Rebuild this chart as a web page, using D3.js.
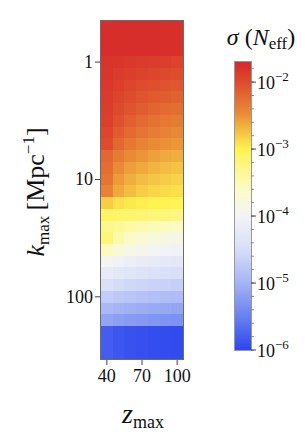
<!DOCTYPE html>
<html><head><meta charset="utf-8">
<script src="https://cdn.jsdelivr.net/npm/d3@7"></script>
<style>body{margin:0;background:#fff}svg{display:block}text{font-family:"Liberation Serif","DejaVu Serif",serif;fill:#111}</style>
</head><body>
<svg id="c" width="305" height="432"></svg>
<script>
// ---- data ----
const zValues = [40, 50, 60, 70, 80, 90, 100];
// row edges in log10(k_max), top to bottom
const kLogEdges = [-0.35, -0.05, 0.05, 0.15, 0.25, 0.35, 0.45, 0.55, 0.65, 0.75, 0.85, 0.95, 1.05, 1.15,
  1.25, 1.35, 1.45, 1.55, 1.65, 1.75, 1.85, 1.95, 2.05, 2.15, 2.25, 2.53];
// log10(sigma(N_eff)), one row per k band (top to bottom), columns = zValues
const logSigma = [
  [-1.75, -1.75, -1.75, -1.75, -1.75, -1.76, -1.76],
  [-1.80, -1.82, -1.84, -1.86, -1.88, -1.90, -1.92],
  [-1.82, -1.86, -1.90, -1.93, -1.96, -1.98, -2.00],
  [-1.84, -1.90, -1.95, -2.00, -2.03, -2.06, -2.08],
  [-1.86, -1.94, -2.00, -2.06, -2.10, -2.13, -2.16],
  [-1.88, -1.98, -2.06, -2.12, -2.18, -2.22, -2.25],
  [-1.90, -2.04, -2.14, -2.22, -2.28, -2.32, -2.35],
  [-1.95, -2.12, -2.22, -2.30, -2.36, -2.40, -2.43],
  [-2.00, -2.20, -2.32, -2.40, -2.46, -2.50, -2.53],
  [-2.20, -2.35, -2.45, -2.52, -2.58, -2.62, -2.65],
  [-2.25, -2.45, -2.56, -2.63, -2.68, -2.72, -2.75],
  [-2.30, -2.55, -2.65, -2.72, -2.77, -2.80, -2.83],
  [-2.40, -2.62, -2.72, -2.80, -2.85, -2.88, -2.90],
  [-2.80, -2.90, -2.95, -2.98, -3.00, -3.02, -3.03],
  [-3.10, -3.12, -3.15, -3.18, -3.20, -3.22, -3.24],
  [-3.30, -3.35, -3.42, -3.48, -3.52, -3.55, -3.58],
  [-3.20, -3.45, -3.60, -3.70, -3.78, -3.82, -3.86],
  [-3.55, -3.72, -3.85, -3.93, -3.98, -4.02, -4.05],
  [-3.95, -4.05, -4.12, -4.18, -4.22, -4.25, -4.28],
  [-4.20, -4.28, -4.34, -4.38, -4.42, -4.45, -4.47],
  [-4.45, -4.52, -4.57, -4.60, -4.63, -4.65, -4.67],
  [-4.70, -4.76, -4.80, -4.83, -4.86, -4.88, -4.90],
  [-4.95, -5.00, -5.04, -5.07, -5.10, -5.12, -5.14],
  [-5.15, -5.20, -5.24, -5.27, -5.30, -5.32, -5.34],
  [-5.80, -5.86, -5.90, -5.92, -5.94, -5.95, -5.96]
];
const xTicks = [40, 70, 100];
const yTicks = [1, 10, 100];
const cbTickExps = [-6, -5, -4, -3, -2];
const colorStopsLog = [-6.0, -5.5, -5.0, -4.5, -4.0, -3.6, -3.0, -2.5, -2.0, -1.7];
const colorStops = ["rgb(45,70,238)", "rgb(105,128,240)", "rgb(165,180,245)", "rgb(215,222,248)",
  "rgb(243,244,246)", "rgb(252,251,200)", "rgb(255,243,80)", "rgb(234,145,55)", "rgb(222,75,45)", "rgb(214,40,42)"];

// ---- scales ----
const svg = d3.select("#c");
const x = d3.scaleLinear().domain([35, 105]).range([101, 183]);
const y = d3.scaleLog().domain([Math.pow(10, -0.35), Math.pow(10, 2.53)]).range([21, 359]);
const color = d3.scaleLinear().domain(colorStopsLog).range(colorStops).interpolate(d3.interpolateRgb).clamp(true);

// ---- heatmap ----
const cells = [];
logSigma.forEach((row, i) => row.forEach((v, j) => cells.push({i, j, v})));
svg.append("g").selectAll("rect").data(cells).join("rect")
  .attr("x", d => x(zValues[d.j] - 5))
  .attr("width", d => x(zValues[d.j] + 5) - x(zValues[d.j] - 5) + 0.5)
  .attr("y", d => y(Math.pow(10, kLogEdges[d.i])))
  .attr("height", d => y(Math.pow(10, kLogEdges[d.i + 1])) - y(Math.pow(10, kLogEdges[d.i])) + 0.5)
  .attr("fill", d => color(d.v))
  .attr("shape-rendering", "crispEdges");

svg.append("rect").attr("x", 100.5).attr("y", 20.5).attr("width", 83).attr("height", 339)
  .attr("fill", "none").attr("stroke", "#6b6b6b").attr("stroke-width", 1);

// x axis
const xa = svg.append("g");
xTicks.forEach(t => {
  xa.append("line").attr("x1", x(t)).attr("x2", x(t)).attr("y1", 360).attr("y2", 365).attr("stroke", "#444");
  xa.append("text").attr("x", x(t)).attr("y", 382).attr("text-anchor", "middle").attr("font-size", 18).text(t);
});
// y axis
const ya = svg.append("g");
yTicks.forEach(t => {
  ya.append("line").attr("x1", 95).attr("x2", 100).attr("y1", y(t)).attr("y2", y(t)).attr("stroke", "#444");
  ya.append("text").attr("x", 93).attr("y", y(t) + 6).attr("text-anchor", "end").attr("font-size", 18).text(t);
});

// axis labels
const xl = svg.append("text").attr("x", 143).attr("y", 423).attr("text-anchor", "middle").attr("font-size", 28);
xl.append("tspan").attr("font-style", "italic").text("z");
xl.append("tspan").attr("font-size", 18).attr("dy", 5).text("max");

const yl = svg.append("text").attr("transform", "translate(44,192) rotate(-90)").attr("text-anchor", "middle").attr("font-size", 26);
yl.append("tspan").attr("font-style", "italic").text("k");
yl.append("tspan").attr("font-size", 17).attr("dy", 5).text("max");
yl.append("tspan").attr("dy", -5).text("\u2009[Mpc");
yl.append("tspan").attr("font-size", 17).attr("dy", -10).text("\u22121");
yl.append("tspan").attr("dy", 10).text("]");

// ---- colorbar ----
const cb = d3.scaleLog().domain([1e-6, Math.pow(10, -1.7)]).range([350, 62]);
const defs = svg.append("defs");
const grad = defs.append("linearGradient").attr("id", "g").attr("x1", 0).attr("y1", 1).attr("x2", 0).attr("y2", 0);
d3.range(0, 1.0001, 0.02).forEach(f => {
  const lv = -6 + f * 4.3;
  grad.append("stop").attr("offset", f).attr("stop-color", color(lv));
});
svg.append("rect").attr("x", 235).attr("y", 62).attr("width", 16).attr("height", 288).attr("fill", "url(#g)");
svg.append("rect").attr("x", 234.5).attr("y", 61.5).attr("width", 17).attr("height", 289)
  .attr("fill", "none").attr("stroke", "#999").attr("stroke-width", 1);
// minor ticks
d3.range(-6, -1.65, 0.2).forEach(e => {
  const yy = cb(Math.pow(10, e));
  svg.append("line").attr("x1", 251).attr("x2", 254).attr("y1", yy).attr("y2", yy).attr("stroke", "#777").attr("stroke-width", 0.8);
});
cbTickExps.forEach(e => {
  const yy = cb(Math.pow(10, e));
  svg.append("line").attr("x1", 251).attr("x2", 256).attr("y1", yy).attr("y2", yy).attr("stroke", "#444");
  const t = svg.append("text").attr("x", 257).attr("y", yy + 7).attr("font-size", 18);
  t.append("tspan").text("10");
  t.append("tspan").attr("font-size", 13).attr("dy", -8).text("\u2212" + Math.abs(e));
});
// colorbar title
const ct = svg.append("text").attr("x", 261).attr("y", 45).attr("text-anchor", "middle").attr("font-size", 24);
ct.append("tspan").attr("font-style", "italic").text("\u03c3");
ct.append("tspan").text(" (");
ct.append("tspan").attr("font-style", "italic").text("N");
ct.append("tspan").attr("font-size", 17).attr("dy", 4).text("eff");
ct.append("tspan").attr("dy", -4).text(")");
</script>
</body></html>
